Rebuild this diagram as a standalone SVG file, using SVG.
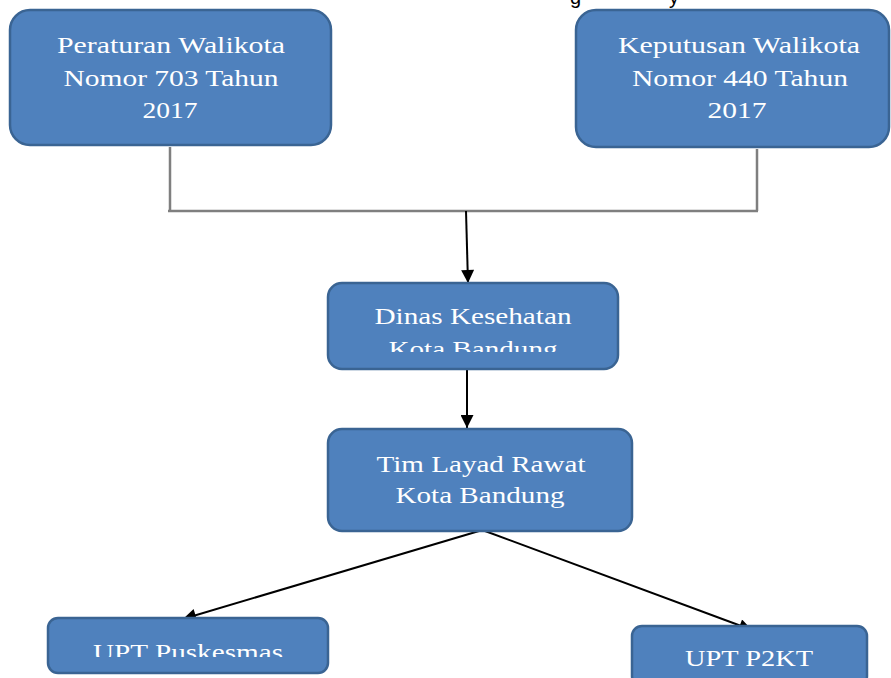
<svg xmlns="http://www.w3.org/2000/svg" width="891" height="678" viewBox="0 0 891 678">
<style>
.box{fill:#4F81BD;stroke:#3A6493;stroke-width:2.5}
.t{font-family:"Liberation Serif",serif;font-size:24px;fill:#ffffff;text-anchor:middle}
.gray{stroke:#7F7F7F;stroke-width:2.5;fill:none}
.arr{stroke:#000000;stroke-width:2;fill:none;marker-end:url(#ah)}
.top{font-family:"Liberation Sans",sans-serif;font-size:20px;fill:#000000}
</style>
<defs>
<marker id="ah" viewBox="0 0 10 10" refX="10" refY="5" markerWidth="7" markerHeight="6.5" markerUnits="strokeWidth" orient="auto">
<path d="M0,0 L10,5 L0,10 z" fill="#000000"/>
</marker>
<clipPath id="cTop"><rect x="0" y="0" width="891" height="9"/></clipPath>
<clipPath id="cDinas"><rect x="328" y="283" width="290" height="69"/></clipPath>
<clipPath id="cPusk"><rect x="48" y="618" width="280" height="39"/></clipPath>
</defs>
<g id="topfragment" clip-path="url(#cTop)">
<text class="top" x="570" y="4">g</text>
<text class="top" x="669" y="4">y</text>
</g>
<g id="connectors">
<line class="gray" x1="170" y1="147" x2="170" y2="210"/>
<line class="gray" x1="757" y1="149" x2="757" y2="211"/>
<line class="gray" x1="168" y1="211" x2="758" y2="211"/>
<line class="arr" x1="466" y1="211" x2="468" y2="283"/>
<line class="arr" x1="467" y1="370" x2="467" y2="428"/>
<line class="arr" x1="479" y1="531" x2="183" y2="619"/>
<line class="arr" x1="485" y1="531" x2="752" y2="630"/>
</g>
<g id="n1">
<rect class="box" x="10" y="10" width="321" height="135" rx="20"/>
<text class="t" x="171" y="53" textLength="228" lengthAdjust="spacingAndGlyphs">Peraturan Walikota</text>
<text class="t" x="171" y="86" textLength="215" lengthAdjust="spacingAndGlyphs">Nomor 703 Tahun</text>
<text class="t" x="170" y="118" textLength="55" lengthAdjust="spacingAndGlyphs">2017</text>
</g>
<g id="n2">
<rect class="box" x="576" y="10" width="313" height="137" rx="20"/>
<text class="t" x="739" y="53" textLength="242" lengthAdjust="spacingAndGlyphs">Keputusan Walikota</text>
<text class="t" x="740" y="86" textLength="216" lengthAdjust="spacingAndGlyphs">Nomor 440 Tahun</text>
<text class="t" x="737" y="118" textLength="59" lengthAdjust="spacingAndGlyphs">2017</text>
</g>
<g id="n3">
<rect class="box" x="328" y="283" width="290" height="86" rx="14"/>
<text class="t" x="473" y="324" textLength="197" lengthAdjust="spacingAndGlyphs">Dinas Kesehatan</text>
<text class="t" x="473" y="357" textLength="169" lengthAdjust="spacingAndGlyphs" clip-path="url(#cDinas)">Kota Bandung</text>
</g>
<g id="n4">
<rect class="box" x="328" y="429" width="304" height="102" rx="14"/>
<text class="t" x="481" y="472" textLength="209" lengthAdjust="spacingAndGlyphs">Tim Layad Rawat</text>
<text class="t" x="480" y="503" textLength="169" lengthAdjust="spacingAndGlyphs">Kota Bandung</text>
</g>
<g id="n5">
<rect class="box" x="48" y="618" width="280" height="55" rx="10"/>
<text class="t" x="188" y="660" textLength="190" lengthAdjust="spacingAndGlyphs" clip-path="url(#cPusk)">UPT Puskesmas</text>
</g>
<g id="n6">
<rect class="box" x="632" y="626" width="235" height="60" rx="10"/>
<text class="t" x="749" y="666" textLength="128" lengthAdjust="spacingAndGlyphs">UPT P2KT</text>
</g>
</svg>
